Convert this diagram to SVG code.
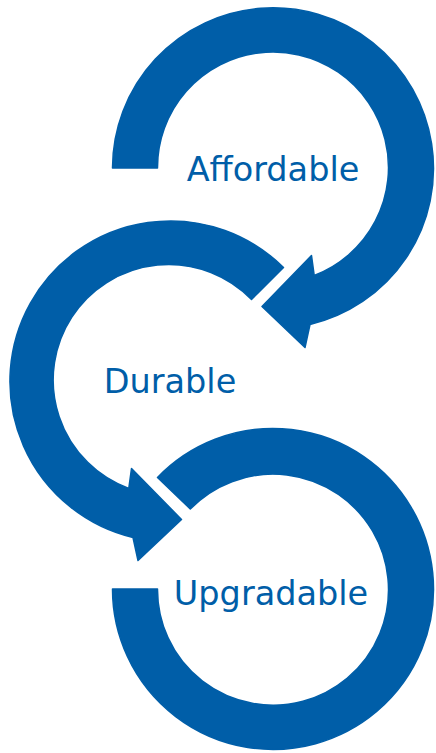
<svg xmlns="http://www.w3.org/2000/svg" width="436" height="753" viewBox="0 0 436 753">
<style>
.arc{fill:#005EA8;stroke:#005EA8;stroke-width:1.5;stroke-linejoin:round}
.lbl{font-family:"DejaVu Sans",Verdana,sans-serif;font-size:33.5px;fill:#005EA8;text-anchor:middle}
</style>
<rect width="436" height="753" fill="#ffffff"/>
<g id="connectors">
<path id="arrow-affordable" class="arc" d="M112.5,168 A160.5,160.5 0 1 1 310,324.5 L305,347.5 L262,306.5 L311.5,255.5 L314.2,275.4 A115.5,115.5 0 1 0 157.5,168 Z"/>
<path id="arrow-durable" class="arc" d="M283.5,267.5 A160.5,160.5 0 1 0 133,537.5 L138,560.5 L181.5,519.5 L131.5,468.5 L128.8,488.4 A115.5,115.5 0 1 1 251.5,299.5 Z"/>
<path id="arc-upgradable" class="arc" d="M112.5,589 A160.5,160.5 0 1 0 157.5,477.5 L190.3,509 A115.5,115.5 0 1 1 157.5,589 Z"/>
</g>
<g id="node-affordable"><text class="lbl" x="273" y="181">Affordable</text></g>
<g id="node-durable"><text class="lbl" x="170" y="393">Durable</text></g>
<g id="node-upgradable"><text class="lbl" x="271" y="605">Upgradable</text></g>
</svg>
